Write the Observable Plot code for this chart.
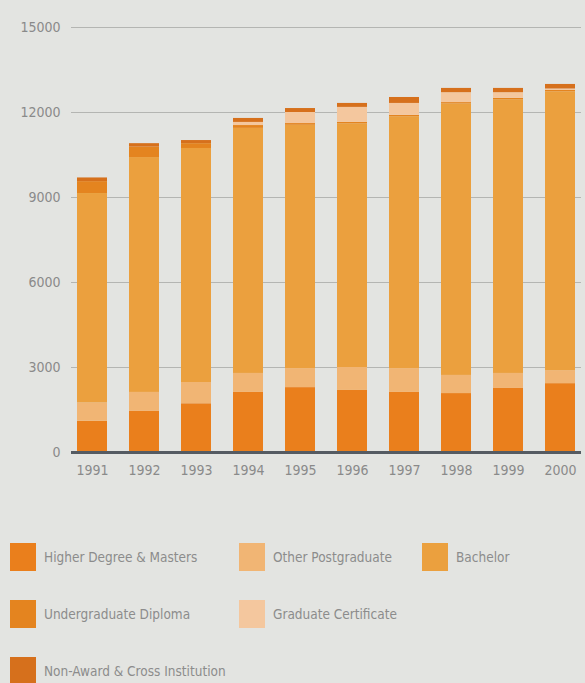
<!DOCTYPE html>
<html>
<head>
<meta charset="utf-8">
<script src="https://cdn.jsdelivr.net/npm/d3@7"></script>
<script src="https://cdn.jsdelivr.net/npm/@observablehq/plot@0.6"></script>
<style>
  html, body { margin: 0; padding: 0; background: #e3e4e1; }
  #wrap { position: relative; width: 585px; height: 683px; overflow: hidden; background: #e3e4e1;
    font-family: "DejaVu Sans", sans-serif; font-stretch: condensed; }
  #chart svg text { font-stretch: condensed; }
  #legend { position: absolute; left: 10px; top: 543px; display: grid;
    grid-template-columns: 229px 183px 150px; grid-auto-rows: 57px; }
  .item { display: flex; align-items: flex-start; }
  .sw { width: 26px; height: 28px; flex: none; }
  .lab { margin-left: 8px; margin-top: 6px; font-size: 13.5px; color: #8c8c8c; white-space: nowrap; font-stretch: condensed; }
</style>
</head>
<body>
<div id="wrap"><div id="chart"></div><div id="legend"></div></div>
<script>
const years = [1991, 1992, 1993, 1994, 1995, 1996, 1997, 1998, 1999, 2000];
const series = ["Higher Degree & Masters", "Other Postgraduate", "Bachelor",
  "Undergraduate Diploma", "Graduate Certificate", "Non-Award & Cross Institution"];
const higherDegree     = [1100, 1450, 1720, 2120, 2290, 2190, 2120, 2080, 2260, 2430];
const otherPostgrad    = [ 650,  670,  750,  670,  670,  810,  840,  640,  530,  460];
const bachelor         = [7390, 8290, 8260, 8650, 8590, 8600, 8890, 9580, 9660, 9840];
const undergradDiploma = [ 420,  370,  170,  100,   60,   50,   50,   50,   50,   50];
const gradCertificate  = [   0,    0,    0,  110,  390,  530,  420,  350,  200,   50];
const nonAward         = [ 130,  120,  110,  140,  140,  140,  210,  150,  150,  160];
const colors = ["#ea7f1c", "#f1b574", "#eba03e", "#e4841f", "#f4c79e", "#d6701c"];
const yTicks = [0, 3000, 6000, 9000, 12000, 15000];
const legendRows = [
  ["Higher Degree & Masters", "Other Postgraduate", "Bachelor"],
  ["Undergraduate Diploma", "Graduate Certificate"],
  ["Non-Award & Cross Institution"]
];

const valuesBySeries = [higherDegree, otherPostgrad, bachelor, undergradDiploma, gradCertificate, nonAward];
const data = [];
series.forEach((s, si) => years.forEach((y, i) => data.push({year: y, series: s, value: valuesBySeries[si][i]})));

const chart = Plot.plot({
  width: 585,
  height: 492,
  marginLeft: 71,
  marginRight: 4,
  marginTop: 27,
  marginBottom: 40,
  style: {background: "transparent", fontFamily: "'DejaVu Sans', sans-serif", fontSize: "14px", color: "#8a8a8a"},
  x: {type: "band", domain: years, paddingInner: 0.42, paddingOuter: 0.1, label: null, tickSize: 0, tickPadding: 13, tickFormat: d => String(d)},
  y: {domain: [0, 15000], ticks: yTicks, label: null, tickSize: 0, tickPadding: 11, tickFormat: d => String(d)},
  color: {domain: series, range: colors},
  marks: [
    Plot.ruleY(yTicks.slice(1), {stroke: "#b4b5b2", strokeWidth: 1}),
    Plot.barY(data, {x: "year", y: "value", fill: "series", order: series}),
    Plot.ruleY([0], {stroke: "#555b62", strokeWidth: 3})
  ]
});
document.getElementById("chart").appendChild(chart);

const color = d3.scaleOrdinal(series, colors);
const legend = document.getElementById("legend");
legendRows.forEach(row => {
  for (let c = 0; c < 3; c++) {
    const cell = document.createElement("div");
    cell.className = "item";
    if (row[c]) {
      const sw = document.createElement("div");
      sw.className = "sw";
      sw.style.background = color(row[c]);
      const lab = document.createElement("span");
      lab.className = "lab";
      lab.textContent = row[c];
      cell.appendChild(sw);
      cell.appendChild(lab);
    }
    legend.appendChild(cell);
  }
});
</script>
</body>
</html>
